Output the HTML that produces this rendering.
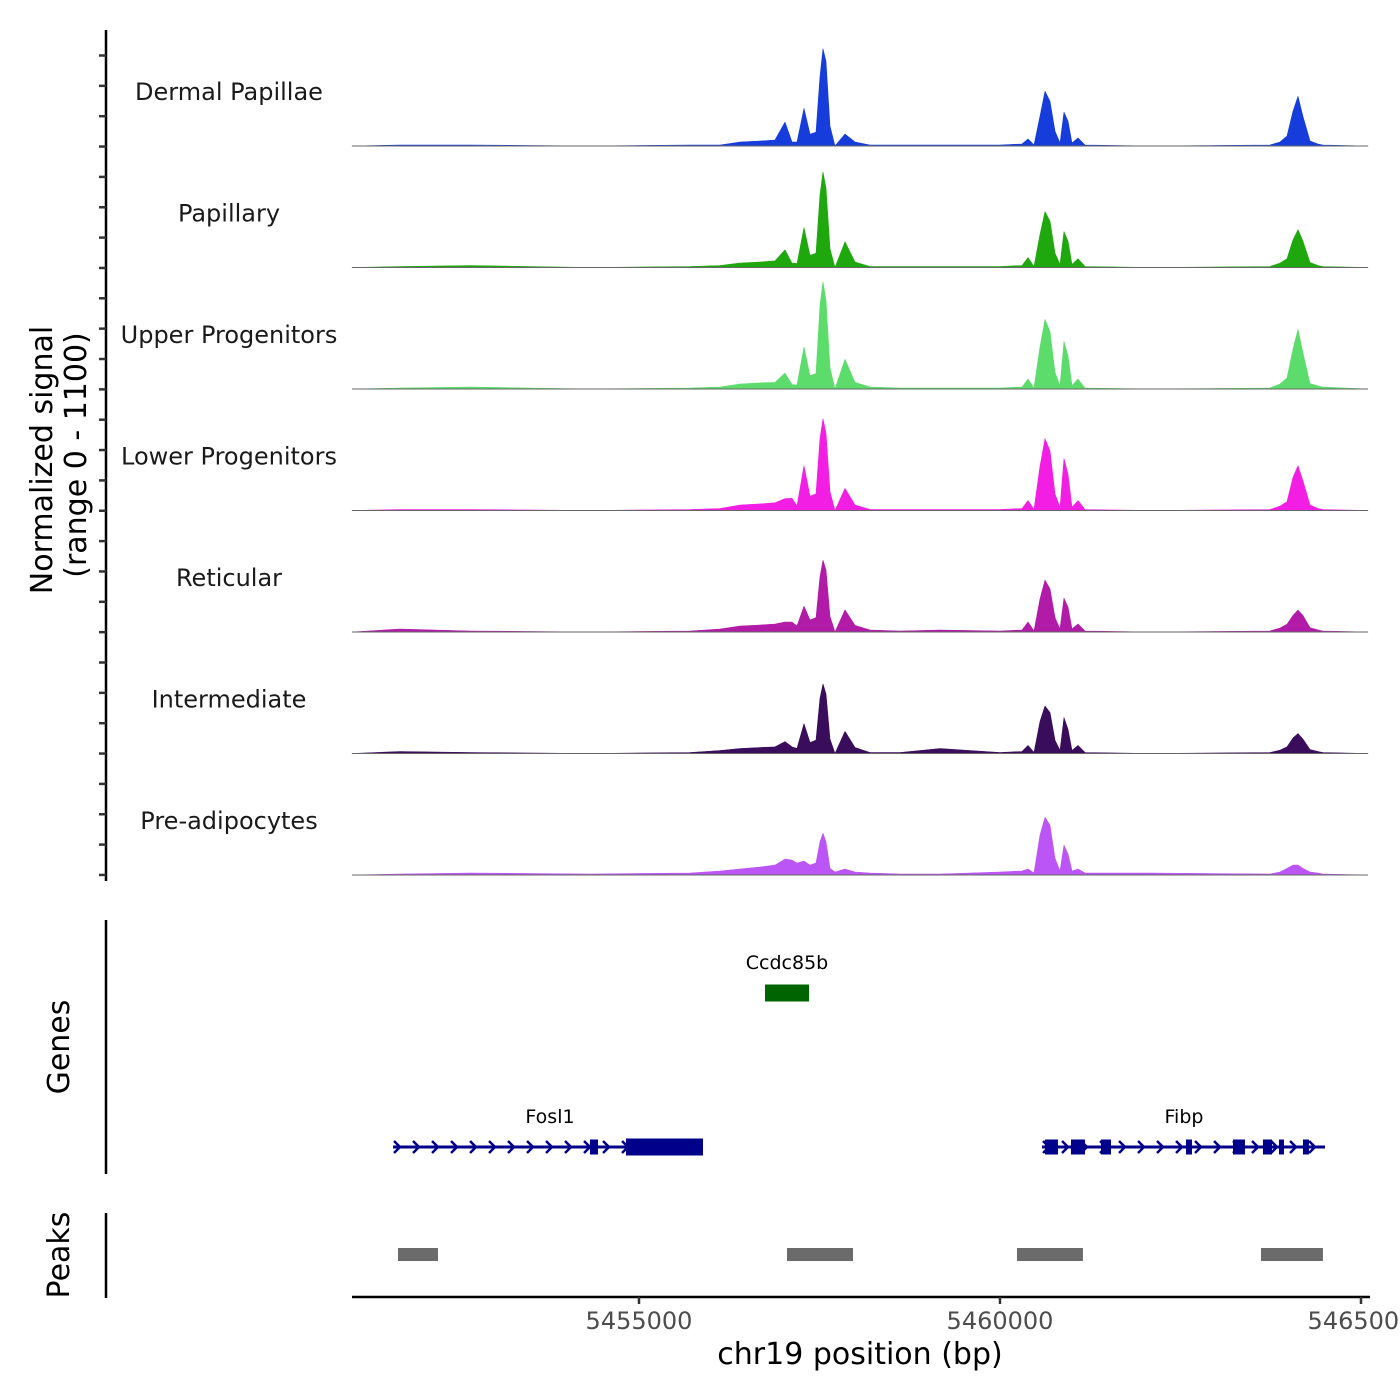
<!DOCTYPE html>
<html><head><meta charset="utf-8">
<style>
html,body{margin:0;padding:0;background:#fff;}
svg{display:block;font-family:"DejaVu Sans","Liberation Sans",sans-serif;}
</style></head>
<body>
<svg id="chart" width="1400" height="1400" viewBox="0 0 1400 1400" xmlns="http://www.w3.org/2000/svg">
  <g id="tracks"></g>
  <g id="genes"></g>
  <g id="peaks"></g>
  <g id="axes"></g>
  <text transform="translate(52,460) rotate(-90)" text-anchor="middle" font-size="30" fill="#000">Normalized signal</text>
  <text transform="translate(86,455) rotate(-90)" text-anchor="middle" font-size="30" fill="#000">(range 0 - 1100)</text>
  <text transform="translate(69,1047) rotate(-90)" text-anchor="middle" font-size="30" fill="#000">Genes</text>
  <text transform="translate(69,1255) rotate(-90)" text-anchor="middle" font-size="30" fill="#000">Peaks</text>
  <text x="860" y="1364" text-anchor="middle" font-size="30" fill="#000">chr19 position (bp)</text>
</svg>
<script>
const trackNames = ["Dermal Papillae","Papillary","Upper Progenitors","Lower Progenitors","Reticular","Intermediate","Pre-adipocytes"];
const trackColors = ["#163ddc","#1fa80e","#5cdc6b","#f21ee4","#b11ba8","#3a0d5c","#bb55f6"];
const positions = [5451025,5451690,5452659,5454321,5455706,5456122,5456399,5456676,5456884,5457022,5457119,5457188,5457285,5457368,5457451,5457507,5457548,5457590,5457645,5457715,5457853,5457992,5458199,5458615,5459169,5460000,5460305,5460388,5460471,5460554,5460623,5460692,5460762,5460831,5460886,5460942,5460997,5461080,5461177,5462077,5463739,5463878,5463975,5464058,5464127,5464196,5464293,5464404,5464473,5465097];
const sigDermal =   [0,9,9,0,9,9,36,45,54,216,36,36,340,108,126,630,880,765,180,0,108,36,9,9,9,9,18,63,9,270,495,405,135,27,306,225,27,72,9,0,9,36,90,315,450,270,45,18,9,0];
const sigPapillary =[0,9,18,0,9,18,40,50,60,160,40,36,360,110,130,660,865,720,170,0,234,50,9,9,9,9,18,90,9,300,505,420,130,27,324,240,27,80,9,0,9,40,80,250,342,240,45,18,9,0];
const sigUpper =    [0,9,18,0,9,18,45,55,60,144,40,36,380,120,140,760,970,800,190,0,270,60,18,9,9,9,18,90,9,380,630,520,150,27,430,300,30,90,9,0,9,45,100,360,540,330,50,27,18,0];
const sigLower =    [0,9,9,0,9,18,50,60,70,108,110,40,405,130,150,650,830,700,170,0,200,50,9,9,9,9,18,90,9,400,650,540,150,27,470,330,30,90,9,0,9,40,80,300,405,270,50,18,9,0];
const sigReticular =[0,27,9,0,9,27,54,63,72,90,90,54,234,110,130,500,650,560,140,0,200,60,18,9,18,9,18,90,9,300,470,390,130,27,306,225,27,72,9,0,9,36,70,150,198,150,40,18,9,0];
const sigInterm =   [0,18,9,0,9,27,45,54,60,108,60,45,270,100,120,500,630,540,130,0,200,54,9,9,45,9,18,72,9,290,430,370,120,27,324,220,27,72,9,0,9,30,60,140,180,130,36,18,9,0];
const sigPreadipo = [0,9,18,9,18,36,54,72,90,144,135,108,126,90,110,300,378,300,60,27,54,27,18,9,9,27,36,54,18,360,522,450,150,36,270,190,36,54,18,18,9,27,60,90,90,60,27,18,9,0];
const trackSignals = [sigDermal,sigPapillary,sigUpper,sigLower,sigReticular,sigInterm,sigPreadipo];
const xTickValues = [5455000,5460000,5465000];
const xTickLabels = ["5455000","5460000","5465000"];
const geneNames = ["Ccdc85b","Fosl1","Fibp"];
const geneStarts = [5456745,5451593,5460582];
const geneEnds = [5457355,5455886,5464501];
const geneRows = [0,1,1];
const geneExonStarts = [[5456745],[5454321,5454820],[5460623,5460983,5461399,5462576,5463227,5463642,5463864,5464196]];
const geneExonEnds = [[5457355],[5454432,5455886],[5460803,5461177,5461537,5462659,5463393,5463767,5463933,5464279]];
const peakStarts = [5451662,5457050,5460235,5463615];
const peakEnds = [5452216,5457964,5461149,5464473];

const NS="http://www.w3.org/2000/svg";
const X0=352,X1=1368,BP0=5451025,BP1=5465097;
function xs(bp){return X0+(bp-BP0)/(BP1-BP0)*(X1-X0);}
const TRACK_H=121.5, BASE0=146, SIG_MAX=1100;
function ys(v,i){return BASE0+i*TRACK_H - v/SIG_MAX*TRACK_H;}
function mk(tag,attrs,parent){const e=document.createElementNS(NS,tag);for(const k in attrs)e.setAttribute(k,attrs[k]);parent.appendChild(e);return e;}

const gT=document.getElementById('tracks');
trackNames.forEach((name,i)=>{
  const g=mk('g',{},gT);
  
  
  const sig=trackSignals[i];
  let d='M'+xs(positions[0]).toFixed(1)+','+ys(0,i).toFixed(1);
  positions.forEach((p,j)=>{d+=' L'+xs(p).toFixed(1)+','+ys(sig[j],i).toFixed(1);});
  d+=' L'+xs(positions[positions.length-1]).toFixed(1)+','+ys(0,i).toFixed(1)+' Z';
  const a=mk('path',{d:d,fill:trackColors[i],stroke:trackColors[i],'stroke-width':0.6,'stroke-linejoin':'round'},g);
  
  
  const bl=mk('line',{x1:X0,x2:X1,y1:ys(0,i),y2:ys(0,i),stroke:'#666','stroke-width':1},g);
  
  
  const t=mk('text',{x:229,y:ys(0,i)-46,'text-anchor':'middle','font-size':24,fill:'#1a1a1a'},g);
  
  
  t.textContent=name;
});

const gG=document.getElementById('genes');
const rowY=[993,1147];
geneNames.forEach((name,i)=>{
  const g=mk('g',{},gG);
  
  
  const col=i===0?'#006400':'#00008b';
  const y=rowY[geneRows[i]];
  const x1=xs(geneStarts[i]),x2=xs(geneEnds[i]);
  mk('line',{x1:x1,x2:x2,y1:y,y2:y,stroke:col,'stroke-width':3},g);
  if(i!==0){
    for(let x=x1+4;x<x2-4;x+=19){
      mk('polyline',{points:(x-3)+','+(y-6)+' '+(x+3)+','+y+' '+(x-3)+','+(y+6),fill:'none',stroke:col,'stroke-width':2.5},g);
    }
  }
  geneExonStarts[i].forEach((s,k)=>{
    const e=geneExonEnds[i][k];
    const w=Math.max(xs(e)-xs(s),4);
    const h=(i===0||w>40)?17:15;
    const r=mk('rect',{x:xs(s),y:y-h/2,width:w,height:h,fill:col},g);
    
    
  });
  const t=mk('text',{x:(x1+x2)/2,y:y-24,'text-anchor':'middle','font-size':19,fill:'#000'},g);
  if(i===1)t.setAttribute('x',550);
  if(i===2)t.setAttribute('x',1184);
  
  
  t.textContent=name;
});

const gP=document.getElementById('peaks');
peakStarts.forEach((s,i)=>{
  const r=mk('rect',{x:xs(s),y:1248,width:xs(peakEnds[i])-xs(s),height:13,fill:'#6b6b6b'},gP);
  
  
});

const gA=document.getElementById('axes');
const la=mk('line',{x1:106,x2:106,y1:30,y2:881,stroke:'#000','stroke-width':2.5},gA);


for(let y=55.5;y<=880;y+=30.35){mk('line',{x1:99,x2:106,y1:y,y2:y,stroke:'#333','stroke-width':2.5},gA);}
const ga=mk('line',{x1:106,x2:106,y1:920,y2:1174,stroke:'#000','stroke-width':2.5},gA);


const pa=mk('line',{x1:106,x2:106,y1:1213,y2:1298,stroke:'#000','stroke-width':2.5},gA);


const xa=mk('line',{x1:X0,x2:X1+2,y1:1297,y2:1297,stroke:'#000','stroke-width':2.5},gA);


xTickValues.forEach((v,i)=>{
  const x=xs(v);
  mk('line',{x1:x,x2:x,y1:1297,y2:1304,stroke:'#333','stroke-width':2.5},gA);
  const t=mk('text',{x:x,y:1329,'text-anchor':'middle','font-size':24,fill:'#4d4d4d'},gA);
  
  
  t.textContent=xTickLabels[i];
});
</script>
</body></html>
